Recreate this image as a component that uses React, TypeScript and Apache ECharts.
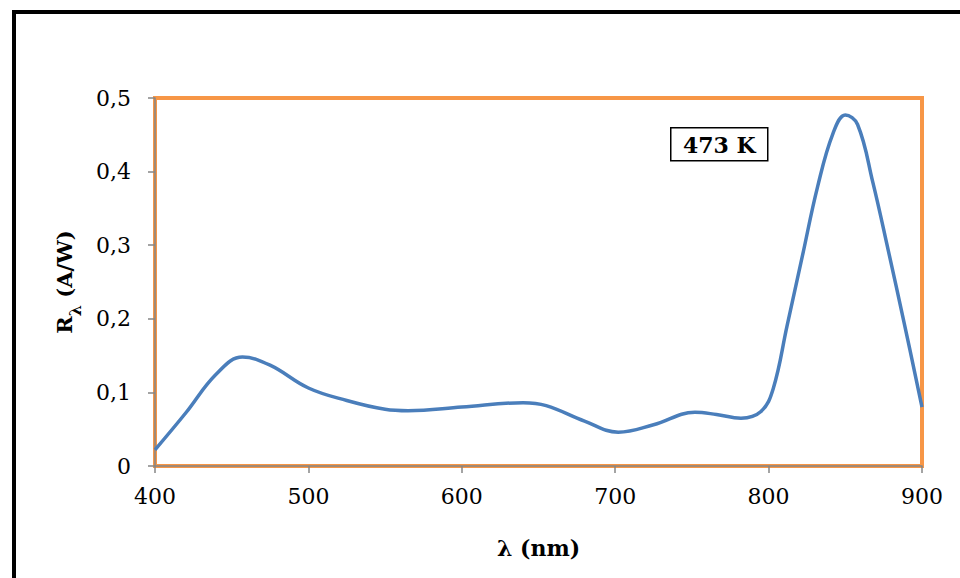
import React, { useEffect, useRef } from "react";
import * as echarts from "echarts";

const wavelengths = [400, 420, 440, 457, 475, 500, 525, 550, 565, 600, 640, 655, 680, 702, 725, 752, 766, 782, 795, 803, 812, 822, 832, 842, 850, 858, 868, 878, 888, 900];
const responsivity = [0.022, 0.072, 0.125, 0.148, 0.137, 0.106, 0.089, 0.077, 0.075, 0.080, 0.086, 0.082, 0.061, 0.046, 0.056, 0.073, 0.070, 0.065, 0.074, 0.105, 0.190, 0.285, 0.380, 0.452, 0.477, 0.464, 0.385, 0.293, 0.198, 0.080];
const xTicks = { min: 400, max: 900, interval: 100 };
const yTicks = { min: 0, max: 0.5, interval: 0.1 };
const boxLabel = "473 K";

export default function App() {
  const ref = useRef<HTMLDivElement>(null);
  useEffect(() => {
    if (!ref.current) return;
    const chart = echarts.init(ref.current, null, { renderer: "svg" });
    const font = "'DejaVu Serif', serif";
    const data = wavelengths.map((w, i) => [w, responsivity[i]]);
    chart.setOption({
      animation: false,
      backgroundColor: "#ffffff",
      grid: {
        left: 155,
        right: 38,
        top: 98,
        bottom: 112,
        show: true,
        borderColor: "#F79646",
        borderWidth: 4,
        backgroundColor: "transparent",
      },
      xAxis: {
        type: "value",
        min: xTicks.min,
        max: xTicks.max,
        interval: xTicks.interval,
        name: "λ (nm)",
        nameLocation: "middle",
        nameGap: 71,
        nameTextStyle: { fontFamily: font, fontWeight: "bold", fontSize: 22, color: "#000" },
        axisLine: { show: true, lineStyle: { color: "#868686", width: 1.5 } },
        axisTick: { show: true, length: 7, lineStyle: { color: "#868686", width: 1.5 } },
        splitLine: { show: false },
        axisLabel: { fontFamily: font, fontSize: 22, color: "#000", margin: 19 },
      },
      yAxis: {
        type: "value",
        min: yTicks.min,
        max: yTicks.max,
        interval: yTicks.interval,
        name: "{r|R}{s|λ}{r| (A/W)}",
        nameLocation: "middle",
        nameRotate: 90,
        nameGap: 80,
        nameTextStyle: {
          rich: {
            r: { fontFamily: font, fontWeight: "bold", fontSize: 21, color: "#000" },
            s: { fontFamily: font, fontWeight: "bold", fontSize: 16, color: "#000", verticalAlign: "bottom", padding: [0, 0, -8, 0] },
          },
        },
        axisLine: { show: true, lineStyle: { color: "#868686", width: 1.5 } },
        axisTick: { show: true, length: 7, lineStyle: { color: "#868686", width: 1.5 } },
        splitLine: { show: false },
        axisLabel: {
          fontFamily: font,
          fontSize: 22,
          color: "#000",
          margin: 24,
          formatter: (v: number) => (v === 0 ? "0" : v.toFixed(1).replace(".", ",")),
        },
      },
      series: [
        {
          type: "line",
          data,
          smooth: 0.4,
          showSymbol: false,
          lineStyle: { color: "#4A7EBB", width: 3.5 },
          z: 3,
        },
      ],
      graphic: [
        { type: "line", shape: { x1: 14, y1: 12, x2: 14, y2: 600 }, style: { stroke: "#000", lineWidth: 4 } },
        { type: "line", shape: { x1: 12, y1: 12, x2: 970, y2: 12 }, style: { stroke: "#000", lineWidth: 4 } },
        {
          type: "group",
          left: 670,
          top: 127,
          children: [
            { type: "rect", shape: { x: 0, y: 0, width: 97, height: 33 }, style: { fill: "#fff", stroke: "#000", lineWidth: 1.5 } },
            {
              type: "text",
              x: 48.5,
              y: 17,
              style: { text: boxLabel, fontFamily: font, fontWeight: "bold", fontSize: 22, fill: "#000", align: "center", verticalAlign: "middle" },
            },
          ],
        },
      ],
    });
    return () => chart.dispose();
  }, []);
  return <div ref={ref} style={{ position: "fixed", left: 0, top: 0, width: 960, height: 578 }} />;
}
